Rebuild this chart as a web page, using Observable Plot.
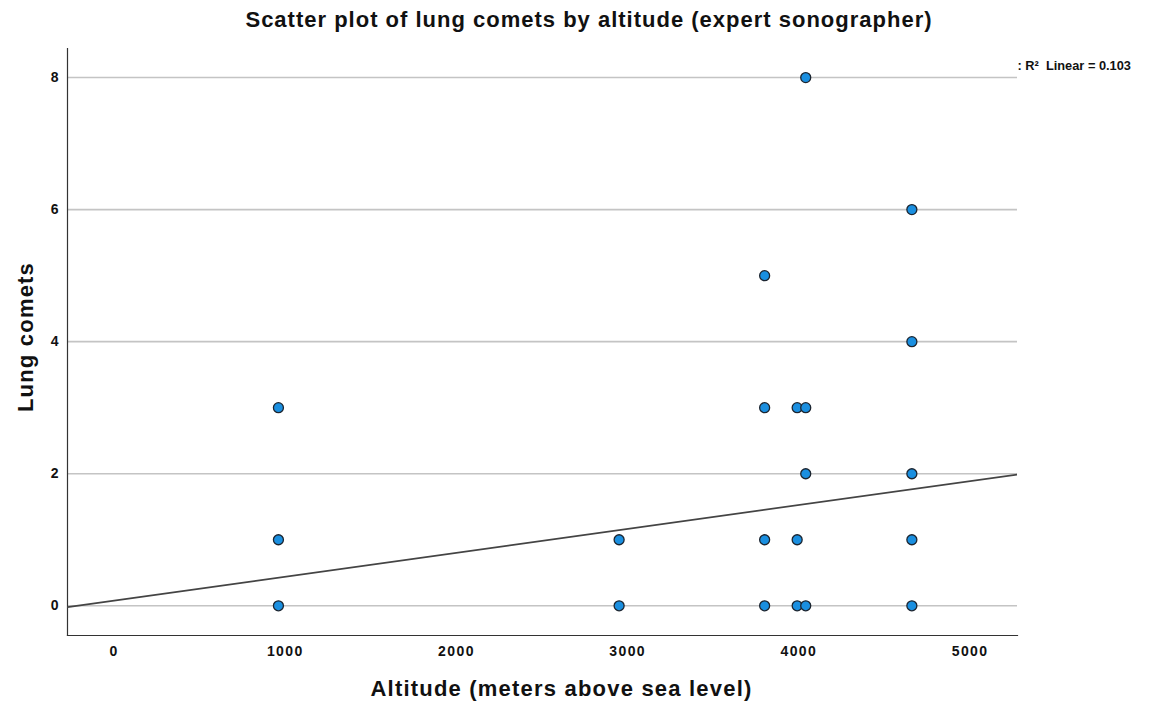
<!DOCTYPE html>
<html>
<head>
<meta charset="utf-8">
<script src="https://cdn.jsdelivr.net/npm/d3@7"></script>
<script src="https://cdn.jsdelivr.net/npm/@observablehq/plot@0.6"></script>
<style>
  html, body { margin: 0; padding: 0; background: #fff; }
  #wrap { position: relative; width: 1168px; height: 705px; font-family: "Liberation Sans", Arial, Helvetica, sans-serif; }
  #title { position: absolute; left: 0; top: 7px; width: 1178px; text-align: center; font-weight: bold; font-size: 22px; letter-spacing: 1px; color: #111; }
  #chart { position: absolute; left: 0; top: 0; }
</style>
</head>
<body>
<div id="wrap">
  <div id="chart"></div>
  <div id="title">Scatter plot of lung comets by altitude (expert sonographer)</div>
</div>
<script>
// Observations (altitude in m, lung comets count)
const altitude = [960, 960, 960, 2950, 2950, 3800, 3800, 3800, 3800, 3990, 3990, 3990, 4040, 4040, 4040, 4040, 4660, 4660, 4660, 4660, 4660];
const comets   = [0,   1,   3,   0,    1,    0,    1,    3,    5,    0,    1,    3,    0,    2,    3,    8,    0,    1,    2,    4,    6];

// Axis ticks
const xTicks = [0, 1000, 2000, 3000, 4000, 5000];
const yTicks = [0, 2, 4, 6, 8];
const xDomain = [-272, 5277];
const yDomain = [-0.45, 8.44];

// Linear fit as reported (R² Linear = 0.103)
const fitIntercept = 0.078;
const fitSlope = 0.000362;
const r2Label = ": R\u00B2  Linear = 0.103";
const yTitle = "Lung comets";
const xTitle = "Altitude (meters above sea level)";

const points = altitude.map((a, i) => ({altitude: a, comets: comets[i]}));
const fitLine = xDomain.map(x => ({altitude: x, comets: fitIntercept + fitSlope * x}));

const chart = Plot.plot({
  width: 1168,
  height: 705,
  marginTop: 48,
  marginLeft: 67,
  marginRight: 151,
  marginBottom: 70,
  style: { fontFamily: '"Liberation Sans", Arial, Helvetica, sans-serif', background: "#fff", color: "#111" },
  x: { domain: xDomain, ticks: xTicks },
  y: { domain: yDomain, ticks: yTicks },
  marks: [
    Plot.ruleY(yTicks, { stroke: "#c4c4c4", strokeWidth: 1.6 }),
    Plot.axisX({ ticks: xTicks, tickSize: 0, tickPadding: 11, fontSize: 14, fontWeight: "bold", label: null, tickFormat: d => String(d) }),
    Plot.axisY({ ticks: yTicks, tickSize: 0, tickPadding: 9, fontSize: 14, fontWeight: "bold", label: null }),
    Plot.frame({ anchor: "left", stroke: "#333", strokeWidth: 1.2 }),
    Plot.frame({ anchor: "bottom", stroke: "#333", strokeWidth: 1.2 }),
    Plot.line(fitLine, { x: "altitude", y: "comets", stroke: "#444", strokeWidth: 1.6, clip: true }),
    Plot.dot(points, { x: "altitude", y: "comets", r: 5, fill: "#1a8fe0", stroke: "#1c2530", strokeWidth: 1.3 }),
    Plot.text([r2Label], { frameAnchor: "top-right", textAnchor: "start", dx: 0, dy: 12, fontSize: 12.8, fontWeight: "bold", fill: "#111" }),
    Plot.text([yTitle], { frameAnchor: "left", textAnchor: "middle", dx: -42, dy: -5, rotate: -90, fontSize: 22, fontWeight: "bold", fill: "#111" }),
    Plot.text([xTitle], { frameAnchor: "bottom", textAnchor: "middle", dx: 19, dy: 60, fontSize: 22, fontWeight: "bold", fill: "#111" })
  ]
});
d3.select(chart).selectAll("g[aria-label='x-axis tick label'] text").style("letter-spacing", "1.4px");
d3.select(chart).selectAll("text").filter(function() { return this.textContent === yTitle || this.textContent === xTitle; }).style("letter-spacing", "1.2px");
document.getElementById("chart").appendChild(chart);
</script>
</body>
</html>
